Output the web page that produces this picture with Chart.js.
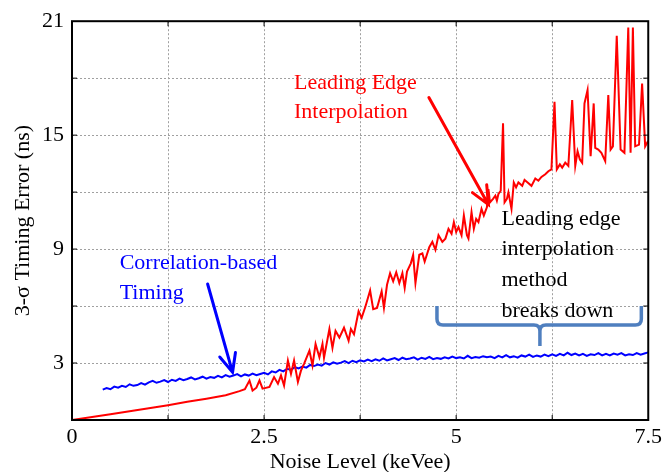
<!DOCTYPE html>
<html lang="en">
<head>
    <meta charset="UTF-8">
    <title>3-σ Timing Error vs Noise Level</title>
    <script src="https://cdn.jsdelivr.net/npm/chart.js"></script>
    <style>
        body { margin: 0; padding: 0; background: #fff; }
        .wrap { width: 666px; height: 472px; }
    </style>
</head>
<body>
    <div class="wrap"><canvas id="timingChart" width="666" height="472"></canvas></div>

    <script>
        // leading edge interpolation (red)
        const redX = [0, 0.5, 1.0, 1.25, 1.5, 1.75, 2.0, 2.18, 2.25, 2.31, 2.35, 2.4, 2.44, 2.48, 2.57, 2.63, 2.68, 2.72, 2.76,
            2.81, 2.85, 2.89, 2.94, 2.98, 3.02, 3.09, 3.13, 3.17, 3.22, 3.26, 3.28, 3.35, 3.39, 3.43, 3.48, 3.54, 3.6, 3.63,
            3.67, 3.73, 3.77, 3.82, 3.88, 3.92, 3.97, 4.03, 4.06, 4.1, 4.14, 4.18, 4.22, 4.26, 4.3, 4.33, 4.36, 4.41, 4.44,
            4.47, 4.52, 4.56, 4.59, 4.65, 4.69, 4.73, 4.77, 4.82, 4.86, 4.9, 4.94, 4.97, 5.0, 5.03, 5.07, 5.1, 5.14, 5.16,
            5.2, 5.23, 5.26, 5.29, 5.33, 5.36, 5.4, 5.42, 5.44, 5.48, 5.51, 5.53, 5.55, 5.58, 5.61, 5.63, 5.66, 5.68, 5.72,
            5.75, 5.78, 5.81, 5.86, 5.89, 5.93, 5.98, 6.03, 6.07, 6.11, 6.16, 6.2, 6.24, 6.28, 6.31, 6.35, 6.38, 6.42, 6.46,
            6.51, 6.55, 6.58, 6.61, 6.64, 6.67, 6.71, 6.75, 6.79, 6.81, 6.85, 6.89, 6.94, 6.98, 7.01, 7.04, 7.09, 7.14, 7.19,
            7.24, 7.27, 7.3, 7.33, 7.38, 7.42, 7.46, 7.5];
        const redY = [0, 0.3, 0.62, 0.78, 0.96, 1.12, 1.3, 1.52, 1.62, 2.08, 1.55, 1.7, 2.08, 1.65, 1.74, 2.26, 1.91, 2.35, 1.82,
            3.13, 2.43, 3.13, 2.0, 2.6, 2.96, 3.65, 2.87, 4.0, 3.3, 4.0, 3.28, 4.79, 3.8, 4.69, 4.34, 4.86, 4.17, 4.79,
            4.52, 5.73, 5.38, 5.99, 6.82, 5.83, 5.9, 6.77, 5.9, 7.12, 7.73, 7.3, 7.78, 7.21, 7.73, 6.95, 7.82, 8.25, 8.69,
            7.21, 8.7, 8.77, 8.34, 9.1, 9.38, 8.96, 9.73, 9.38, 9.55, 10.07, 9.81, 10.42, 9.9, 10.16, 9.73, 10.77, 9.73, 9.55,
            10.94, 10.07, 10.59, 10.42, 11.12, 10.77, 11.2, 12.16, 11.46, 11.64, 11.81, 11.55, 11.9, 12.07, 15.63, 11.46, 11.64, 11.99, 11.12,
            12.51, 12.25, 12.51, 12.33, 12.64, 12.51, 12.33, 12.72, 12.6, 12.8, 12.94, 13.1, 13.2, 16.76, 13.2, 13.46, 13.29, 13.55, 13.38,
            16.85, 13.38, 14.15, 13.72, 13.55, 16.67, 17.37, 13.89, 16.67, 14.33, 14.24, 14.07, 13.63, 17.11, 14.24, 14.41, 20.23, 14.24, 14.07,
            20.67, 14.07, 20.67, 14.41, 14.5, 17.72, 14.41, 14.7];

        // correlation-based timing (blue)
        const blueX = [0.40, 0.45, 0.50, 0.55, 0.60, 0.65, 0.70, 0.75, 0.80, 0.85,
            0.90, 0.95, 1.00, 1.05, 1.10, 1.15, 1.20, 1.25, 1.30, 1.35,
            1.40, 1.45, 1.50, 1.55, 1.60, 1.65, 1.70, 1.75, 1.80, 1.85,
            1.90, 1.95, 2.00, 2.05, 2.10, 2.15, 2.20, 2.25, 2.30, 2.35,
            2.40, 2.45, 2.50, 2.55, 2.60, 2.65, 2.70, 2.75, 2.80, 2.85,
            2.90, 2.95, 3.00, 3.05, 3.10, 3.15, 3.20, 3.25, 3.30, 3.35,
            3.40, 3.45, 3.50, 3.55, 3.60, 3.65, 3.70, 3.75, 3.80, 3.85,
            3.90, 3.95, 4.00, 4.05, 4.10, 4.15, 4.20, 4.25, 4.30, 4.35,
            4.40, 4.45, 4.50, 4.55, 4.60, 4.65, 4.70, 4.75, 4.80, 4.85,
            4.90, 4.95, 5.00, 5.05, 5.10, 5.15, 5.20, 5.25, 5.30, 5.35,
            5.40, 5.45, 5.50, 5.55, 5.60, 5.65, 5.70, 5.75, 5.80, 5.85,
            5.90, 5.95, 6.00, 6.05, 6.10, 6.15, 6.20, 6.25, 6.30, 6.35,
            6.40, 6.45, 6.50, 6.55, 6.60, 6.65, 6.70, 6.75, 6.80, 6.85,
            6.90, 6.95, 7.00, 7.05, 7.10, 7.15, 7.20, 7.25, 7.30, 7.35,
            7.40, 7.45, 7.50];
        const blueY = [1.60, 1.68, 1.62, 1.76, 1.70, 1.80, 1.74, 1.88, 1.80, 1.84,
            1.94, 1.86, 1.98, 2.06, 1.96, 2.02, 2.10, 2.00, 2.12, 2.06,
            2.18, 2.10, 2.16, 2.24, 2.14, 2.20, 2.28, 2.18, 2.26, 2.22,
            2.32, 2.24, 2.36, 2.28, 2.34, 2.42, 2.30, 2.40, 2.34, 2.44,
            2.36, 2.42, 2.48, 2.40, 2.56, 2.50, 2.64, 2.56, 2.70, 2.64,
            2.78, 2.72, 2.82, 2.76, 2.90, 2.84, 2.92, 2.86, 3.00, 2.92,
            3.04, 2.96, 3.02, 3.10, 3.00, 3.12, 3.04, 3.14, 3.08, 3.18,
            3.10, 3.20, 3.12, 3.24, 3.14, 3.20, 3.26, 3.16, 3.28, 3.20,
            3.24, 3.30, 3.18, 3.28, 3.22, 3.32, 3.20, 3.26, 3.22, 3.30,
            3.24, 3.34, 3.26, 3.30, 3.24, 3.38, 3.26, 3.32, 3.28, 3.36,
            3.30, 3.34, 3.26, 3.38, 3.30, 3.42, 3.30, 3.36, 3.28, 3.40,
            3.34, 3.44, 3.32, 3.40, 3.34, 3.44, 3.36, 3.46, 3.38, 3.48,
            3.40, 3.54, 3.42, 3.50, 3.40, 3.48, 3.38, 3.46, 3.42, 3.52,
            3.40, 3.48, 3.40, 3.50, 3.44, 3.52, 3.40, 3.46, 3.42, 3.52,
            3.44, 3.50, 3.56];

        const xLabelTicks = [0, 2.5, 5, 7.5];
        const yLabelTicks = [3, 9, 15, 21];

        const serif = "'Liberation Serif', 'DejaVu Serif', serif";

        // 注释: text / arrows / brace, placed in data units
        const notes = {
            redText: { x: 2.89, y: [17.76, 16.2], lines: ['Leading Edge', 'Interpolation'], color: '#ff0000' },
            blueText: { x: 0.62, y: [8.26, 6.69], lines: ['Correlation-based', 'Timing'], color: '#0000ff' },
            blackText: { x: 5.59, y: [10.55, 8.99, 7.37, 5.75], lines: ['Leading edge', 'interpolation', 'method', 'breaks down'], color: '#000000' },
            redArrow: { from: [4.645, 16.98], to: [5.42, 11.34], color: '#ff0000' },
            blueArrow: { from: [1.765, 7.16], to: [2.09, 2.51], color: '#0000ff' },
            brace: { left: 4.75, right: 7.41, top: 6.0, mid: 5.0, tip: 3.9, center: 6.09, color: '#4f7fbf' }
        };

        const drawArrow = (ctx, x1, y1, x2, y2, color) => {
            const ang = Math.atan2(y2 - y1, x2 - x1);
            const head = 20, spread = 0.42;
            ctx.save();
            ctx.strokeStyle = color;
            ctx.lineWidth = 3;
            ctx.lineCap = 'round';
            ctx.beginPath();
            ctx.moveTo(x1, y1);
            ctx.lineTo(x2, y2);
            ctx.moveTo(x2 - head * Math.cos(ang - spread), y2 - head * Math.sin(ang - spread));
            ctx.lineTo(x2, y2);
            ctx.lineTo(x2 - head * Math.cos(ang + spread), y2 - head * Math.sin(ang + spread));
            ctx.stroke();
            ctx.restore();
        };

        const annotationPlugin = {
            id: 'notes',
            afterDatasetsDraw(chart) {
                const { ctx, scales: { x, y }, chartArea: a } = chart;

                // inward tick marks + frame
                ctx.save();
                ctx.strokeStyle = '#000';
                ctx.lineWidth = 1;
                ctx.beginPath();
                for (let v = 1.25; v < 7.5; v += 1.25) {
                    const px = x.getPixelForValue(v);
                    ctx.moveTo(px, a.bottom); ctx.lineTo(px, a.bottom - 5);
                    ctx.moveTo(px, a.top); ctx.lineTo(px, a.top + 5);
                }
                for (let v = 3; v < 21; v += 3) {
                    const py = y.getPixelForValue(v);
                    ctx.moveTo(a.left, py); ctx.lineTo(a.left + 5, py);
                    ctx.moveTo(a.right, py); ctx.lineTo(a.right - 5, py);
                }
                ctx.stroke();
                ctx.lineWidth = 2;
                ctx.strokeRect(a.left, a.top, a.right - a.left, a.bottom - a.top);
                ctx.restore();

                // text
                ctx.save();
                ctx.font = '22px ' + serif;
                ctx.textBaseline = 'middle';
                ctx.textAlign = 'left';
                [notes.redText, notes.blueText, notes.blackText].forEach(t => {
                    ctx.fillStyle = t.color;
                    t.lines.forEach((line, i) => {
                        ctx.fillText(line, x.getPixelForValue(t.x), y.getPixelForValue(t.y[i]));
                    });
                });
                ctx.restore();

                // arrows
                [notes.redArrow, notes.blueArrow].forEach(ar => {
                    drawArrow(ctx,
                        x.getPixelForValue(ar.from[0]), y.getPixelForValue(ar.from[1]),
                        x.getPixelForValue(ar.to[0]), y.getPixelForValue(ar.to[1]), ar.color);
                });

                // brace
                const b = notes.brace;
                const L = x.getPixelForValue(b.left), R = x.getPixelForValue(b.right);
                const T = y.getPixelForValue(b.top), M = y.getPixelForValue(b.mid);
                const P = y.getPixelForValue(b.tip), C = x.getPixelForValue(b.center);
                const r = 6;
                ctx.save();
                ctx.strokeStyle = b.color;
                ctx.lineWidth = 3.5;
                ctx.lineJoin = 'round';
                ctx.beginPath();
                ctx.moveTo(L, T);
                ctx.lineTo(L, M - r);
                ctx.quadraticCurveTo(L, M, L + r, M);
                ctx.lineTo(C - r, M);
                ctx.quadraticCurveTo(C, M, C, M + r);
                ctx.lineTo(C, P);
                ctx.moveTo(C, M + r);
                ctx.quadraticCurveTo(C, M, C + r, M);
                ctx.lineTo(R - r, M);
                ctx.quadraticCurveTo(R, M, R, M - r);
                ctx.lineTo(R, T);
                ctx.stroke();
                ctx.restore();
            }
        };

        const ctx = document.getElementById('timingChart').getContext('2d');

        new Chart(ctx, {
            type: 'line',
            data: {
                datasets: [
                    {
                        label: 'Leading Edge Interpolation',
                        data: redX.map((v, i) => ({ x: v, y: redY[i] })),
                        borderColor: '#ff0000',
                        borderWidth: 2,
                        pointRadius: 0,
                        tension: 0,
                        fill: false
                    },
                    {
                        label: 'Correlation-based Timing',
                        data: blueX.map((v, i) => ({ x: v, y: blueY[i] })),
                        borderColor: '#0000ff',
                        borderWidth: 2,
                        pointRadius: 0,
                        tension: 0,
                        fill: false
                    }
                ]
            },
            options: {
                responsive: false,
                animation: false,
                layout: { padding: { top: 17, right: 16, left: 0, bottom: 0 } },
                plugins: {
                    legend: { display: false },
                    tooltip: { enabled: false }
                },
                scales: {
                    x: {
                        type: 'linear',
                        min: 0,
                        max: 7.5,
                        afterFit: s => { s.height = 52; },
                        ticks: {
                            stepSize: 1.25,
                            autoSkip: false,
                            maxRotation: 0,
                            padding: 4,
                            color: '#000',
                            font: { family: serif, size: 22 },
                            callback: v => xLabelTicks.includes(v) ? String(v) : ''
                        },
                        grid: { color: '#a0a0a0', lineWidth: 1, drawTicks: false },
                        border: { display: false, dash: [2, 2] },
                        title: {
                            display: true,
                            text: 'Noise Level (keVee)',
                            color: '#000',
                            font: { family: serif, size: 22, lineHeight: 1 },
                            padding: { top: 0, bottom: -1 }
                        }
                    },
                    y: {
                        min: 0,
                        max: 21,
                        afterFit: s => { s.width = 72; },
                        ticks: {
                            stepSize: 3,
                            autoSkip: false,
                            padding: 8,
                            color: '#000',
                            font: { family: serif, size: 22 },
                            callback: v => yLabelTicks.includes(v) ? String(v) : ''
                        },
                        grid: { color: '#a0a0a0', lineWidth: 1, drawTicks: false },
                        border: { display: false, dash: [2, 2] },
                        title: {
                            display: true,
                            text: '3-σ Timing Error (ns)',
                            color: '#000',
                            font: { family: serif, size: 22, lineHeight: 1 },
                            padding: { top: 12, bottom: 0 }
                        }
                    }
                }
            },
            plugins: [annotationPlugin]
        });
    </script>
</body>
</html>
